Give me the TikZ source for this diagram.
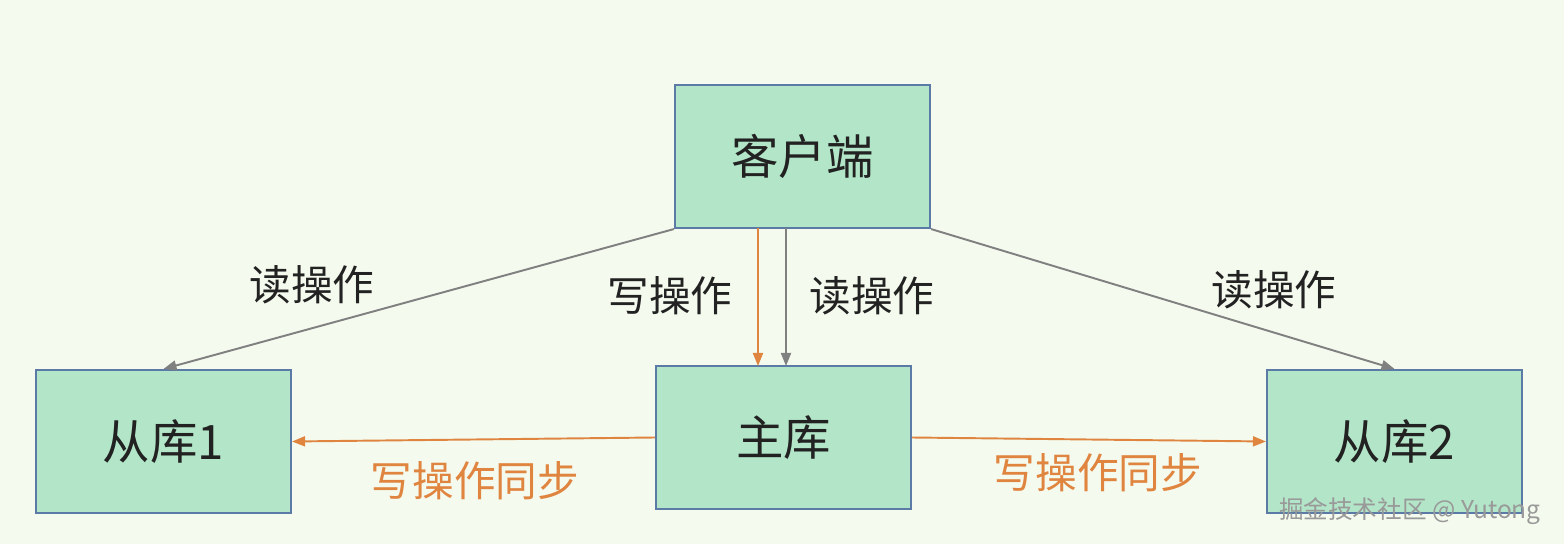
\documentclass[tikz,border=0pt]{standalone}
\usepackage{fontspec}
\setmainfont{Noto Sans CJK SC}
\usetikzlibrary{arrows.meta, positioning}

\definecolor{bgcol}{HTML}{F4FBEE}
\definecolor{boxfill}{HTML}{B3E6C8}
\definecolor{boxline}{HTML}{5B7BA6}
\definecolor{readcol}{HTML}{808080}
\definecolor{writecol}{HTML}{E08540}
\definecolor{txtcol}{HTML}{222222}

\begin{document}
\begin{tikzpicture}[
                db/.style={draw=boxline, fill=boxfill, line width=1.2pt, minimum width=5.1cm, minimum height=2.86cm, text=txtcol, font=\fontsize{27}{30}\selectfont},
                lbl/.style={text=txtcol, font=\fontsize{23.7}{27}\selectfont},
                synclbl/.style={text=writecol, font=\fontsize{23.7}{27}\selectfont},
                readline/.style={draw=readcol, line width=1.1pt, -{Triangle[length=0.26cm, width=0.2cm]}},
                writeline/.style={draw=writecol, line width=1.1pt, -{Triangle[length=0.26cm, width=0.2cm]}}
            ]
            % Background and page size
            \fill[bgcol] (0,0) rectangle (31.28,10.88);
            \useasboundingbox (0,0) rectangle (31.28,10.88);

            % Boxes
            \node[db] (client) at (16.05,7.75) {客户端};
            \node[db] (slave1) at (3.27,2.05) {从库1};
            \node[db] (master) at (15.67,2.13) {主库};
            \node[db] (slave2) at (27.89,2.05) {从库2};

            % Drop points on the client box
            \coordinate (wtop) at (15.16,6.32);
            \coordinate (rtop) at (15.72,6.32);
            \coordinate (wbot) at (15.16,3.56);
            \coordinate (rbot) at (15.72,3.56);

            % Read connections
            \draw[readline] (client.south west) -- (slave1.north);
            \draw[readline] (rtop) -- (rbot);
            \draw[readline] (client.south east) -- (slave2.north);

            % Write connections
            \draw[writeline] (wtop) -- (wbot);
            \draw[writeline] (master.west) -- (slave1.east);
            \draw[writeline] (master.east) -- (slave2.west);

            % Labels
            \node[lbl] (rd1) at (6.24,5.18) {读操作};
            \node[lbl] (wr) at (13.4,4.96) {写操作};
            \node[lbl] (rd2) at (17.44,4.96) {读操作};
            \node[lbl] (rd3) at (25.48,5.08) {读操作};
            \node[synclbl] (sync1) at (9.5,1.26) {写操作同步};
            \node[synclbl] (sync2) at (21.96,1.42) {写操作同步};

            % Watermark
            \node[text=gray!80, font=\fontsize{14}{16}\selectfont] (mark) at (28.2,0.66) {掘金技术社区 @ Yutong};
        \end{tikzpicture}
\end{document}
